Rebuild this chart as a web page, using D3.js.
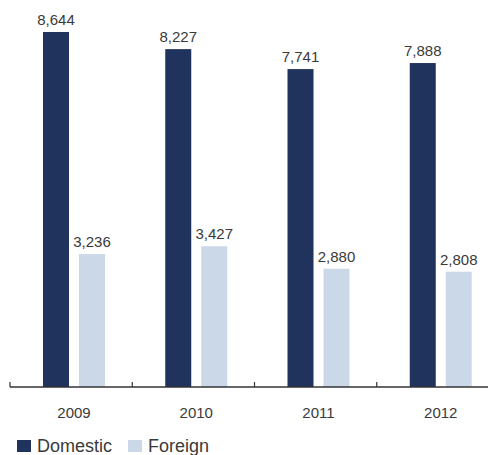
<!DOCTYPE html>
<html>
<head>
<meta charset="utf-8">
<script src="https://cdn.jsdelivr.net/npm/d3@7"></script>
<style>
  body { margin: 0; background: #fff; }
  text { font-family: "Liberation Sans", Arial, sans-serif; fill: #3a3a3a; }
</style>
</head>
<body>
<div id="chart"></div>
<script>
const years = ["2009", "2010", "2011", "2012"];
const domestic = [8644, 8227, 7741, 7888];
const foreign = [3236, 3427, 2880, 2808];
const seriesNames = ["Domestic", "Foreign"];
const seriesColors = ["#20335c", "#cbd8e8"];

const width = 488, height = 455;
const baseY = 387;

const svg = d3.select("#chart")
    .append("svg")
    .attr("width", width)
    .attr("height", height);

const x = d3.scaleBand()
    .domain(years)
    .range([10, 499]);

const y = d3.scaleLinear()
    .domain([0, 8644])
    .range([baseY, 32]);

const barW = 26;
const offsets = [33, 69];
const fmt = d3.format(",");

[domestic, foreign].forEach(function (vals, s) {
    const g = svg.append("g");
    g.selectAll("rect")
        .data(vals)
        .enter()
        .append("rect")
        .attr("x", (d, i) => x(years[i]) + offsets[s])
        .attr("y", d => y(d))
        .attr("width", barW)
        .attr("height", d => baseY - y(d))
        .attr("fill", seriesColors[s]);
    g.selectAll("text")
        .data(vals)
        .enter()
        .append("text")
        .attr("x", (d, i) => x(years[i]) + offsets[s] + barW / 2)
        .attr("y", d => y(d) - 7)
        .attr("text-anchor", "middle")
        .style("font-size", "15px")
        .text(d => fmt(d));
});

// axis line and ticks
svg.append("line")
    .attr("x1", 10).attr("x2", width)
    .attr("y1", baseY).attr("y2", baseY)
    .style("stroke", "#333")
    .style("stroke-width", 1.5);

svg.selectAll(".tick")
    .data(years)
    .enter()
    .append("line")
    .attr("x1", d => x(d)).attr("x2", d => x(d))
    .attr("y1", baseY).attr("y2", baseY - 5)
    .style("stroke", "#333")
    .style("stroke-width", 1.2);

svg.selectAll(".year")
    .data(years)
    .enter()
    .append("text")
    .attr("x", d => x(d) + 64)
    .attr("y", 418)
    .attr("text-anchor", "middle")
    .style("font-size", "15px")
    .text(d => d);

// legend
const legendX = [17, 128];
seriesNames.forEach(function (name, i) {
    svg.append("rect")
        .attr("x", legendX[i])
        .attr("y", 440)
        .attr("width", 14)
        .attr("height", 12)
        .attr("fill", seriesColors[i]);
    svg.append("text")
        .attr("x", legendX[i] + 20)
        .attr("y", 452)
        .style("font-size", "18px")
        .text(name);
});
</script>
</body>
</html>
